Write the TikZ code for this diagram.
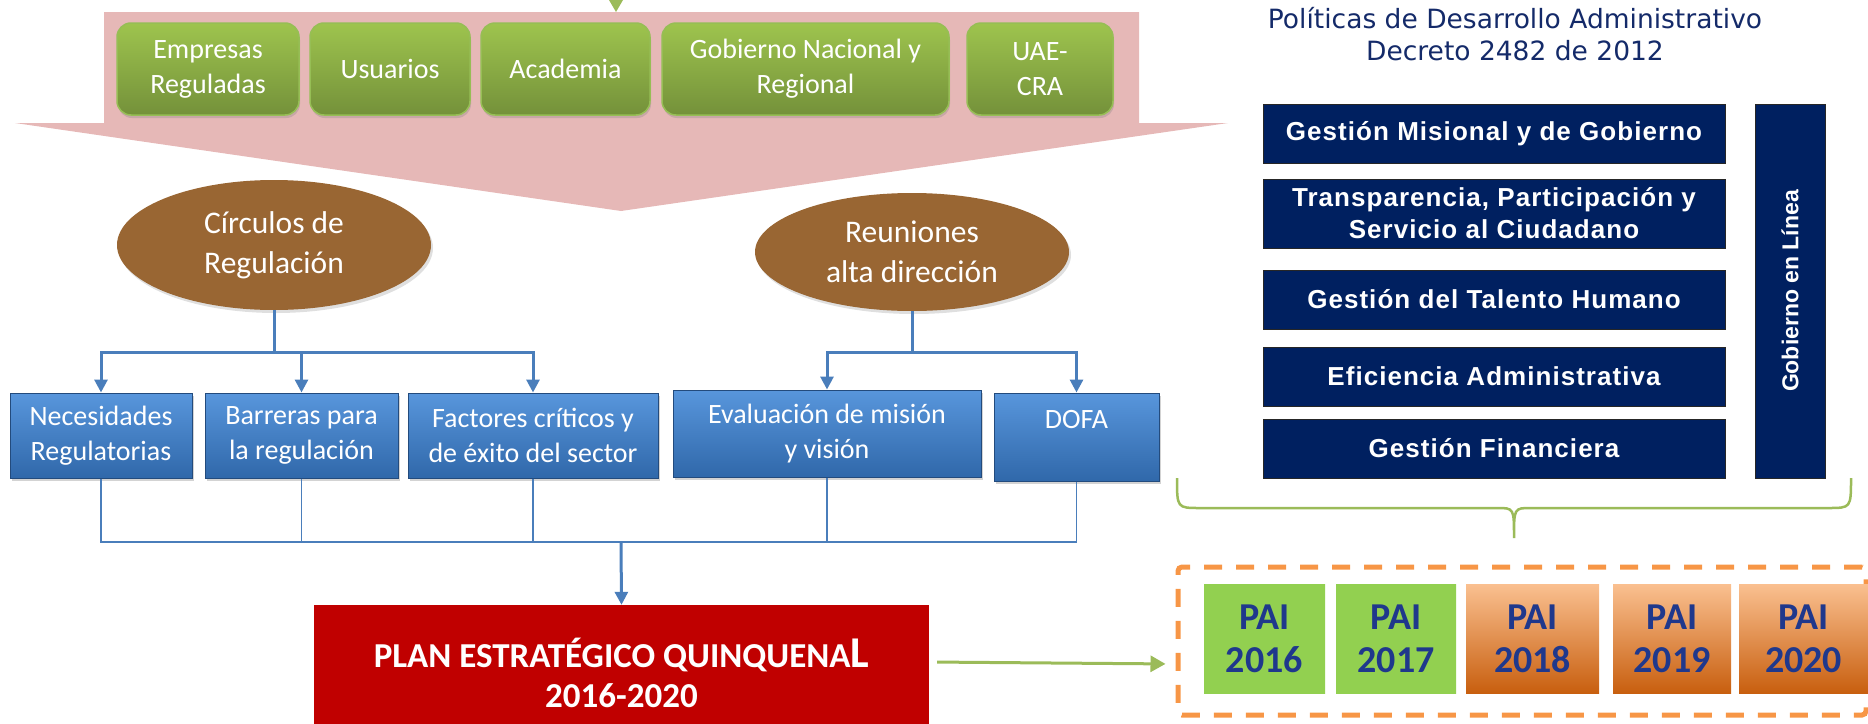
\documentclass[tikz,border=0pt]{standalone}
\usepackage{fontspec}
\setmainfont{Carlito}
\newfontfamily\panelfont{Liberation Sans}[LetterSpace=4]
\newfontfamily\arialfont{Liberation Sans}
\newfontfamily\dejafont{DejaVu Sans}
\usetikzlibrary{arrows.meta,shadows,shapes.geometric}

\begin{document}
\begin{tikzpicture}[x=1pt,y=-1pt,
  greenbox/.style={draw=kGreenLine,line width=1.5pt,rounded corners=14pt,
    top color=kGreenTop,bottom color=kGreenBot,text=white,align=center,
    inner sep=0pt,minimum height=92pt,font=\fontsize{28}{35}\selectfont,
    drop shadow={shadow xshift=1pt,shadow yshift=-3pt,opacity=0.3}},
  brownell/.style={ellipse,fill=kBrown,text=white,align=center,inner sep=0pt,
    font=\fontsize{31.5}{40}\selectfont,
    drop shadow={shadow xshift=2pt,shadow yshift=-3pt,opacity=0.25}},
  bluebox/.style={draw=kBlueLine,line width=1pt,top color=kBlueTop,
    bottom color=kBlueBot,text=white,align=center,inner sep=0pt,
    minimum height=85pt,font=\fontsize{28}{35}\selectfont,
    drop shadow={shadow xshift=2pt,shadow yshift=-3pt,opacity=0.35}},
  navybox/.style={fill=kNavy,draw=black!85,line width=1pt,text=white,
    align=center,inner sep=0pt,minimum width=462pt,minimum height=59pt,
    font=\panelfont\bfseries\fontsize{26}{32}\selectfont},
  bline/.style={draw=kConn,line width=3pt},
  thinline/.style={draw=kConn,line width=1.6pt},
  tip/.style={-{Triangle[length=13pt,width=13pt]}}]
  % colors
  \definecolor{kPink}{RGB}{230,184,183}
  \definecolor{kGreenTop}{RGB}{158,196,78}
  \definecolor{kGreenBot}{RGB}{116,145,58}
  \definecolor{kGreenLine}{RGB}{150,190,85}
  \definecolor{kBrown}{RGB}{153,102,51}
  \definecolor{kBlueTop}{RGB}{88,150,220}
  \definecolor{kBlueBot}{RGB}{48,104,170}
  \definecolor{kBlueLine}{RGB}{35,75,125}
  \definecolor{kConn}{RGB}{74,126,187}
  \definecolor{kRed}{RGB}{192,0,0}
  \definecolor{kNavy}{RGB}{0,32,96}
  \definecolor{kTitle}{RGB}{20,42,105}
  \definecolor{kOrange}{RGB}{247,150,70}
  \definecolor{kPaiGreen}{RGB}{146,208,80}
  \definecolor{kPaiTop}{RGB}{250,192,144}
  \definecolor{kPaiBot}{RGB}{200,95,15}
  \definecolor{kPaiText}{RGB}{31,56,140}
  \definecolor{kLime}{RGB}{155,187,89}
  \useasboundingbox (0,0) rectangle (1868,723);

  % pink arrow
  \fill[kPink] (104,12) -- (1139,12) -- (1139,123) -- (1228,123) -- (621,211)
    -- (15,123) -- (104,123) -- cycle;
  \fill[kLime] (609,0) -- (623,0) -- (616,12) -- cycle;

  % actors
  \node[greenbox,minimum width=182pt] (emp) at (208,69) {Empresas\\Reguladas};
  \node[greenbox,minimum width=160pt] (usu) at (390,69) {Usuarios};
  \node[greenbox,minimum width=169pt] (aca) at (565.5,69) {Academia};
  \node[greenbox,minimum width=287pt] (gob) at (805.5,69) {Gobierno Nacional y\\Regional};
  \node[greenbox,minimum width=146pt] (uae) at (1040,69) {UAE-\\CRA};

  % sources
  \node[brownell,minimum width=314pt,minimum height=130pt] (circ) at (274,245) {Círculos de\\Regulación};
  \node[brownell,minimum width=314pt,minimum height=118pt] (reun) at (912,252) {Reuniones\\alta dirección};

  \node[bluebox,minimum width=182pt] (nec) at (101,435.5) {Necesidades\\Regulatorias};
  \node[bluebox,minimum width=193pt] (bar) at (301.5,435.5) {Barreras para\\la regulación};
  \node[bluebox,minimum width=250pt] (fac) at (533,435.5) {Factores críticos y\\de éxito del sector};
  \node[bluebox,minimum width=308pt,minimum height=87pt] (eva) at (827,433.5) {Evaluación de misión\\y visión};
  \node[bluebox,minimum width=165pt,minimum height=88pt] (dofa) at (1076.5,437) {DOFA\\\mbox{}};

  \node[fill=kRed,minimum width=615pt,minimum height=135pt,text=white,align=center,
    font=\bfseries\fontsize{35}{40}\selectfont] (plan) at (621.5,672.5)
    {PLAN ESTRATÉGICO QUINQUENA{\fontsize{44}{44}\selectfont L}\\2016-2020};

  % connectors
  \draw[bline] (circ.south) -- (circ.south |- 0,352) coordinate (circj);
  \foreach \n in {nec,bar,fac}
    \draw[bline,tip] (circj) -| (\n.north);
  \draw[bline] (reun.south) -- (reun.south |- 0,352) coordinate (reunj);
  \foreach \n in {eva,dofa}
    \draw[bline,tip] (reunj) -| (\n.north);
  \coordinate (bus) at (621,542);
  \foreach \n in {nec,bar,fac,eva,dofa}
    \draw[thinline] (\n.south) |- (bus);
  \draw[bline,tip] (bus) -- (plan.north);

  % policies
  \node[font=\dejafont\fontsize{26.5}{32}\selectfont,text=kTitle,align=center] (titulo)
    at (1515,34) {Políticas de Desarrollo Administrativo\\Decreto 2482 de 2012};
  \node[navybox] (pol1) at (1494,133.5) {Gestión Misional y de Gobierno};
  \node[navybox,minimum height=69pt] (pol2) at (1494,213.5) {Transparencia, Participación y\\Servicio al Ciudadano};
  \node[navybox] (pol3) at (1494,299.5) {Gestión del Talento Humano};
  \node[navybox] (pol4) at (1494,376.5) {Eficiencia Administrativa};
  \node[navybox] (pol5) at (1494,448.5) {Gestión Financiera};
  \node[navybox,rotate=90,minimum width=374pt,minimum height=70pt,
    font=\arialfont\bfseries\fontsize{23}{26}\selectfont] (gel) at (1790,291) {Gobierno en Línea};

  % brace
  \draw[kLime,line width=2.5pt] (1177,478) .. controls (1177,508) .. (1200,508) -- (1497,508)
    .. controls (1514,508) .. (1514,538) .. controls (1514,508) .. (1531,508) -- (1828,508)
    .. controls (1851,508) .. (1851,478);

  % pai
  \node[draw=kOrange,line width=5pt,dash pattern=on 18pt off 14pt,rounded corners=4pt,
    minimum width=688pt,minimum height=148pt] (paibox) at (1522,641) {};
  \foreach \x/\w/\yr/\ct/\cb in {1264.5/121/2016/kPaiGreen/kPaiGreen,
      1396/120/2017/kPaiGreen/kPaiGreen,1532.5/133/2018/kPaiTop/kPaiBot,
      1672/118/2019/kPaiTop/kPaiBot,1803.5/129/2020/kPaiTop/kPaiBot}
    \node[top color=\ct,bottom color=\cb,minimum width=\w pt,minimum height=109pt,
      inner sep=0pt,align=center,text=kPaiText,font=\bfseries\fontsize{38}{43}\selectfont]
      (pai\yr) at (\x,638.5) {PAI\\\yr};

  \draw[kLime,line width=3pt,-{Triangle[length=15pt,width=16pt]},shorten <=8pt,shorten >=10pt]
    ([yshift=10.5pt]plan.east) -- ([yshift=-23pt]paibox.west);
\end{tikzpicture}
\end{document}
